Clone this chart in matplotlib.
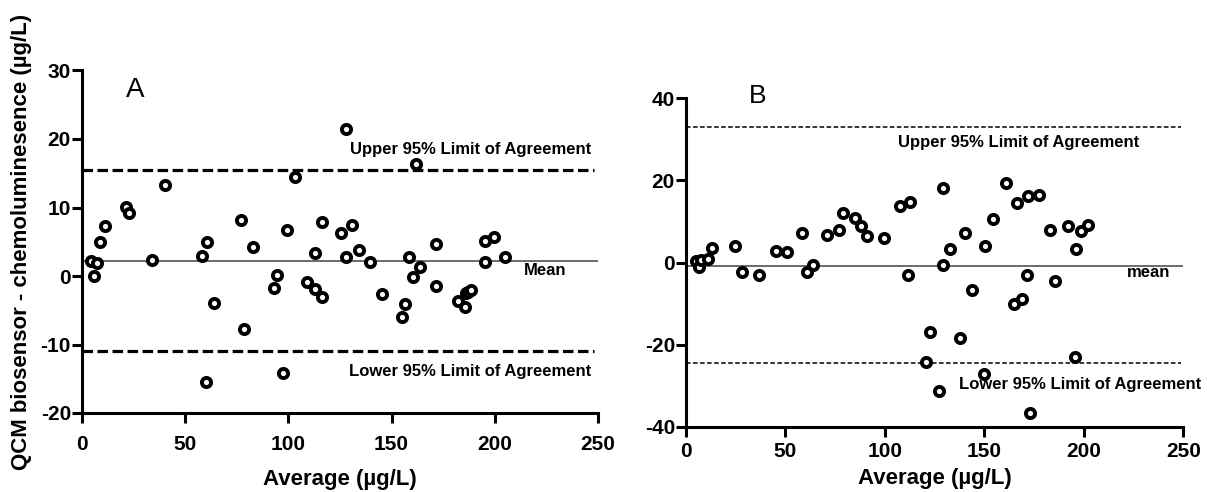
import numpy as np
import matplotlib
matplotlib.use('Agg')
import matplotlib.pyplot as plt

plt.rcParams['font.family'] = ['Liberation Sans', 'DejaVu Sans']
plt.rcParams['axes.unicode_minus'] = False

# panel A: Bland-Altman data
avg_a = [4.5, 7.3, 6.0, 8.7, 11.0, 21.3, 22.6, 40.0, 34.1, 58.1, 60.7, 64.1, 78.3, 76.9,
         83.0, 94.3, 93.0, 99.3, 103.0, 60.1, 97.2, 127.7, 161.9, 116.4, 125.3, 130.7,
         112.9, 128.1, 134.4, 139.5, 108.8, 112.9, 116.1, 145.4, 158.3, 163.8, 160.2,
         171.3, 171.3, 156.6, 155.2, 182.2, 185.6, 185.9, 187.2, 188.4, 195.4, 199.7,
         195.4, 204.9]
diff_a = [2.2, 1.9, 0.0, 5.0, 7.3, 10.1, 9.2, 13.3, 2.4, 2.9, 5.0, -4.0, -7.7, 8.2,
          4.2, 0.1, -1.7, 6.7, 14.4, -15.5, -14.2, 21.5, 16.4, 7.85, 6.3, 7.45,
          3.3, 2.8, 3.75, 2.05, -0.9, -1.95, -3.0, -2.7, 2.8, 1.3, -0.2,
          4.6, -1.5, -4.1, -6.0, -3.6, -4.5, -2.5, -2.3, -2.1, 5.1, 5.7,
          2.05, 2.8]
mean_a, upper_a, lower_a = 2.15, 15.45, -10.96

# panel B
avg_b = [5.0, 6.7, 7.5, 10.9, 13.1, 24.5, 28.2, 36.7, 45.3, 50.8, 58.4, 60.7, 63.7,
         71.1, 76.8, 79.1, 84.9, 87.9, 91.0, 99.6, 107.5, 112.8, 111.5, 122.9, 129.4,
         129.4, 132.8, 140.3, 143.7, 150.1, 154.1, 161.0, 166.3, 171.9, 177.4, 171.4,
         168.9, 165.0, 185.4, 183.1, 191.8, 198.5, 201.9, 196.0, 137.8, 120.7, 195.7,
         149.6, 127.4, 172.7]
diff_b = [0.25, -1.1, 0.5, 0.9, 3.6, 3.9, -2.35, -3.0, 2.9, 2.45, 7.1, -2.4, -0.65,
          6.6, 7.9, 12.0, 10.8, 8.9, 6.5, 6.0, 13.8, 14.7, -3.1, -17.0, 18.1,
          -0.65, 3.25, 7.15, -6.6, 3.9, 10.7, 19.3, 14.5, 16.1, 16.5, -3.0,
          -8.85, -10.2, -4.55, 7.8, 8.9, 7.7, 9.2, 3.25, -18.5, -24.3, -22.9,
          -27.2, -31.2, -36.7]
mean_b, upper_b, lower_b = -0.8, 32.9, -24.5

W, H = 1207, 492
fig = plt.figure(figsize=(W / 100, H / 100), dpi=100)
axA = fig.add_axes([82 / W, 1 - 413 / H, (598 - 82) / W, (413 - 70.5) / H])
axB = fig.add_axes([686 / W, 1 - 426.7 / H, (1183.3 - 686) / W, (426.7 - 98.3) / H])

mk = dict(ls='none', marker='o', ms=6.6, mew=2.8, mec='black', mfc='white', zorder=5)
note = dict(fontsize=12, fontweight='bold', va='center')

for ax in (axA, axB):
    ax.spines['top'].set_visible(False)
    ax.spines['right'].set_visible(False)
    for s in ('left', 'bottom'):
        ax.spines[s].set_linewidth(2.2)
    ax.tick_params(width=2.2, length=7, direction='out')
    ax.tick_params(axis='y', pad=1)
    ax.set_xlim(0, 250)
    ax.set_xticks([0, 50, 100, 150, 200, 250])

axA.tick_params(axis='x', pad=9)
axB.tick_params(axis='x', pad=4)

# panel A
axA.plot([0, 250], [mean_a, mean_a], color='#444444', lw=1.1)
axA.plot([0, 248], [upper_a, upper_a], color='black', lw=2.3, dashes=(3.3, 1.4))
axA.plot([0, 248], [lower_a, lower_a], color='black', lw=2.3, dashes=(3.3, 1.4))
axA.plot(avg_a, diff_a, **mk)
axA.set_ylim(-20, 30)
axA.set_yticks([-20, -10, 0, 10, 20, 30])
axA.text(21.5, 26.1, 'A', fontsize=20)
axA.text(129.8, 18.4, 'Upper 95% Limit of Agreement', **note)
axA.text(214, 0.75, 'Mean', **note)
axA.text(129.4, -13.9, 'Lower 95% Limit of Agreement', **note)
axA.set_ylabel('QCM biosensor - chemoluminesence (µg/L)', fontsize=16,
               fontweight='bold', labelpad=6)

# panel B
axB.plot([0, 250], [mean_b, mean_b], color='#444444', lw=1.1)
axB.plot([0, 249], [upper_b, upper_b], color='black', lw=1.1, dashes=(3, 1.6))
axB.plot([0, 249], [lower_b, lower_b], color='black', lw=1.1, dashes=(3, 1.6))
axB.plot(avg_b, diff_b, **mk)
axB.set_ylim(-40, 40)
axB.set_yticks([-40, -20, 0, 20, 40])
axB.text(31.5, 38.9, 'B', fontsize=19)
axB.text(106.6, 29.2, 'Upper 95% Limit of Agreement', **note)
axB.text(221.8, -2.5, 'mean', **note)
axB.text(137.3, -29.8, 'Lower 95% Limit of Agreement', **note)

# x axis titles placed directly in figure pixels
fig.text(340 / W, 1 - 485 / H, 'Average (µg/L)', fontsize=16, fontweight='bold',
         ha='center', va='baseline')
fig.text(935 / W, 1 - 484 / H, 'Average (µg/L)', fontsize=16, fontweight='bold',
         ha='center', va='baseline')

for ax in (axA, axB):
    for lab in ax.get_xticklabels() + ax.get_yticklabels():
        lab.set_fontsize(15)
        lab.set_fontweight('bold')

fig.savefig('out.png', dpi=100)
